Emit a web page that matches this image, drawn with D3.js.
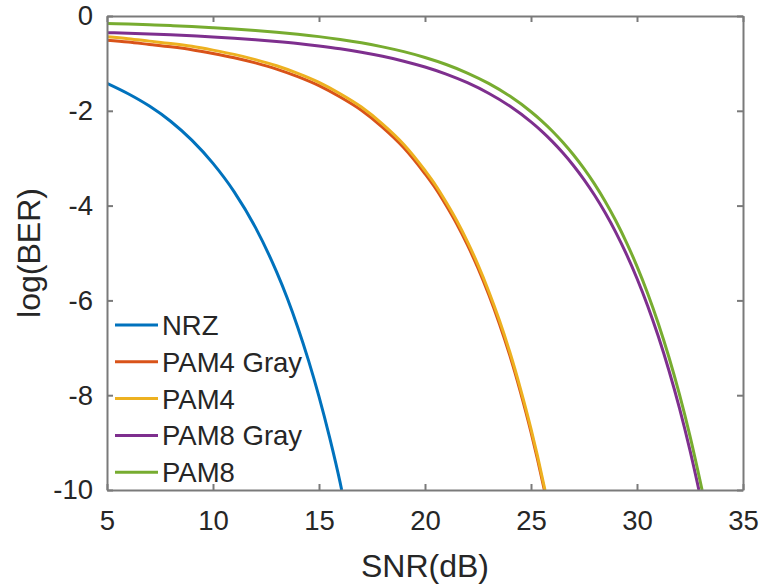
<!DOCTYPE html>
<html>
<head>
<meta charset="utf-8">
<script src="https://cdn.jsdelivr.net/npm/d3@7"></script>
<style>
  html, body { margin: 0; padding: 0; background: #ffffff; }
  svg { display: block; }
  text { font-family: Arial, "Liberation Sans", sans-serif; fill: #262626; }
</style>
</head>
<body>
<svg id="chart" width="761" height="585"></svg>
<script>
// ---- data ----
const seriesNames = ["NRZ", "PAM4 Gray", "PAM4", "PAM8 Gray", "PAM8"];
const seriesColors = ["#0072BD", "#D95319", "#EDB120", "#7E2F8E", "#77AC30"];

const snrNRZ = [5, 6, 7, 8, 9, 10, 11, 12, 13, 13.5, 14, 14.5, 15, 15.5, 16, 16.07];
const berNRZ = [-1.42, -1.64, -1.90, -2.22, -2.62, -3.11, -3.71, -4.46, -5.40, -5.95, -6.57, -7.26, -8.03, -8.89, -9.85, -10];

const snrPAM4Gray = [5, 6, 7, 8, 9, 10, 11, 12, 13, 14, 15, 16, 17, 18, 19, 20, 20.5, 21, 21.5, 22, 22.5, 23, 23.5, 24, 24.5, 25, 25.3, 25.63];
const berPAM4Gray = [-0.51, -0.55, -0.60, -0.65, -0.71, -0.79, -0.88, -0.99, -1.12, -1.28, -1.47, -1.71, -1.99, -2.35, -2.78, -3.33, -3.64, -4.00, -4.39, -4.83, -5.32, -5.87, -6.48, -7.16, -7.93, -8.78, -9.34, -10];

const snrPAM4 = [5, 6, 7, 8, 9, 10, 11, 12, 13, 14, 15, 16, 17, 18, 19, 20, 20.5, 21, 21.5, 22, 22.5, 23, 23.5, 24, 24.5, 25, 25.3, 25.66];
const berPAM4 = [-0.44, -0.48, -0.53, -0.58, -0.64, -0.72, -0.81, -0.92, -1.05, -1.21, -1.40, -1.64, -1.92, -2.28, -2.71, -3.26, -3.57, -3.93, -4.32, -4.76, -5.25, -5.80, -6.41, -7.09, -7.86, -8.71, -9.27, -10];

const snrPAM8Gray = [5, 6, 7, 8, 9, 10, 11, 12, 13, 14, 15, 16, 17, 18, 19, 20, 21, 22, 23, 24, 25, 25.5, 26, 26.5, 27, 27.5, 28, 28.5, 29, 29.5, 30, 30.5, 31, 31.5, 32, 32.5, 32.92];
const berPAM8Gray = [-0.351, -0.364, -0.380, -0.397, -0.418, -0.441, -0.468, -0.500, -0.537, -0.580, -0.632, -0.692, -0.764, -0.850, -0.953, -1.077, -1.226, -1.408, -1.630, -1.901, -2.235, -2.429, -2.645, -2.886, -3.153, -3.451, -3.782, -4.152, -4.564, -5.024, -5.537, -6.111, -6.752, -7.468, -8.269, -9.166, -10];

const snrPAM8 = [5, 6, 7, 8, 9, 10, 11, 12, 13, 14, 15, 16, 17, 18, 19, 20, 21, 22, 23, 24, 25, 25.5, 26, 26.5, 27, 27.5, 28, 28.5, 29, 29.5, 30, 30.5, 31, 31.5, 32, 32.5, 33.07];
const berPAM8 = [-0.156, -0.170, -0.185, -0.202, -0.222, -0.246, -0.273, -0.304, -0.341, -0.384, -0.435, -0.495, -0.566, -0.651, -0.752, -0.875, -1.023, -1.203, -1.422, -1.690, -2.020, -2.212, -2.425, -2.663, -2.927, -3.221, -3.548, -3.913, -4.320, -4.775, -5.282, -5.848, -6.481, -7.188, -7.979, -8.864, -10];

const xTicks = [5, 10, 15, 20, 25, 30, 35];
const yTicks = [0, -2, -4, -6, -8, -10];
const xLabel = "SNR(dB)";
const yLabel = "log(BER)";

const seriesSNR = [snrNRZ, snrPAM4Gray, snrPAM4, snrPAM8Gray, snrPAM8];
const seriesBER = [berNRZ, berPAM4Gray, berPAM4, berPAM8Gray, berPAM8];

// ---- layout ----
const svg = d3.select("#chart");
const pL = 107, pT = 16, pR = 743, pB = 490;
const axisColor = "#7a7a7a";
const fontSize = 27.5;

const x = d3.scaleLinear().domain([5, 35]).range([pL, pR]);
const y = d3.scaleLinear().domain([-10, 0]).range([pB, pT]);

// clip
svg.append("defs").append("clipPath").attr("id", "plotclip")
  .append("rect").attr("x", pL).attr("y", pT)
  .attr("width", pR - pL).attr("height", pB - pT);

// curves
const line = d3.line().x(d => x(d[0])).y(d => y(d[1])).curve(d3.curveMonotoneX);
const curves = svg.append("g").attr("clip-path", "url(#plotclip)");
seriesNames.forEach((name, i) => {
  const pts = seriesSNR[i].map((s, j) => [s, seriesBER[i][j]]);
  curves.append("path")
    .datum(pts)
    .attr("d", line)
    .attr("fill", "none")
    .attr("stroke", seriesColors[i])
    .attr("stroke-width", 3)
    .attr("stroke-linejoin", "round");
});

// axes (box with inward ticks on all sides)
const tickLen = 6;
const gBottom = svg.append("g").attr("transform", `translate(0,${pB})`)
  .call(d3.axisBottom(x).tickValues(xTicks).tickSizeInner(-tickLen).tickSizeOuter(0).tickPadding(20).tickFormat(d => String(d)));
const gTop = svg.append("g").attr("transform", `translate(0,${pT})`)
  .call(d3.axisTop(x).tickValues(xTicks).tickSizeInner(-tickLen).tickSizeOuter(0).tickFormat(""));
const gLeft = svg.append("g").attr("transform", `translate(${pL},0)`)
  .call(d3.axisLeft(y).tickValues(yTicks).tickSizeInner(-tickLen).tickSizeOuter(0).tickPadding(14).tickFormat(d => String(d)));
const gRight = svg.append("g").attr("transform", `translate(${pR},0)`)
  .call(d3.axisRight(y).tickValues(yTicks).tickSizeInner(-tickLen).tickSizeOuter(0).tickFormat(""));

[gBottom, gTop, gLeft, gRight].forEach(g => {
  g.select(".domain").attr("stroke", axisColor).attr("stroke-width", 2);
  g.selectAll(".tick line").attr("stroke", axisColor).attr("stroke-width", 2);
  g.selectAll(".tick text")
    .attr("fill", "#262626")
    .style("font-size", fontSize + "px")
    .style("font-family", "Arial, 'Liberation Sans', sans-serif");
});

// axis labels
svg.append("text")
  .attr("x", (pL + pR) / 2)
  .attr("y", 577)
  .attr("text-anchor", "middle")
  .style("font-size", "32px")
  .text(xLabel);

svg.append("text")
  .attr("transform", `translate(40,${(pT + pB) / 2}) rotate(-90)`)
  .attr("text-anchor", "middle")
  .style("font-size", "32px")
  .text(yLabel);

// legend (no box)
const legend = svg.append("g");
const legX0 = 115, legX1 = 158, legTextX = 162, legY0 = 325, legStep = 36.8;
seriesNames.forEach((name, i) => {
  const yy = legY0 + i * legStep;
  legend.append("line")
    .attr("x1", legX0).attr("x2", legX1)
    .attr("y1", yy).attr("y2", yy)
    .attr("stroke", seriesColors[i]).attr("stroke-width", 3);
  legend.append("text")
    .attr("x", legTextX).attr("y", yy)
    .attr("dy", "0.36em")
    .style("font-size", fontSize + "px")
    .text(name);
});
</script>
</body>
</html>
